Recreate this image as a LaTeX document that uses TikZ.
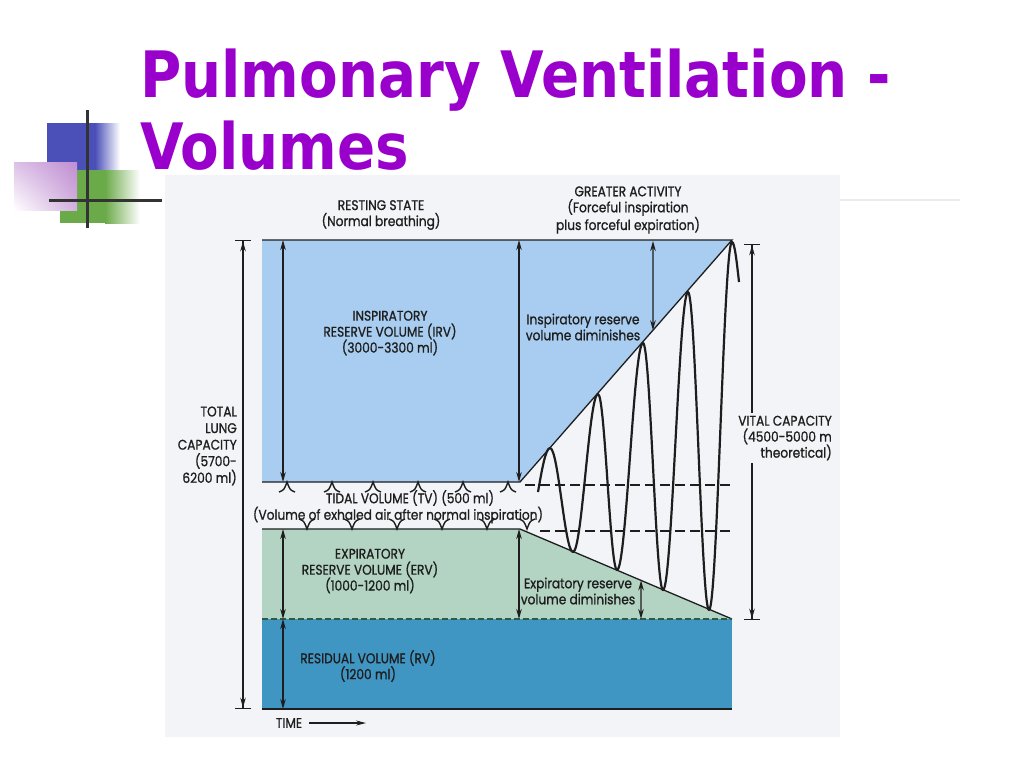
\documentclass[tikz,border=0pt]{standalone}
\usepackage{fontspec}
\setmainfont{Poppins}[FakeStretch=0.87, FakeBold=1]
\newfontfamily\titlefont{DejaVu Sans}[FakeStretch=0.88]
\usetikzlibrary{arrows.meta, calc, shadings}

\definecolor{titlepurple}{HTML}{9900CC}
\definecolor{irvblue}{HTML}{A9CDF0}
\definecolor{ervgreen}{HTML}{B3D4C3}
\definecolor{rvblue}{HTML}{4096C3}
\definecolor{scanbg}{HTML}{F2F4F7}
\definecolor{inkline}{HTML}{1E1E1E}
\definecolor{rvdash}{HTML}{2F5A45}
\definecolor{deckblue}{HTML}{4B50B9}
\definecolor{deckgreen}{HTML}{6AAA48}
\definecolor{decklilac}{HTML}{C08ED2}

\begin{document}
\begin{tikzpicture}[x=1pt, y=-1pt,
    txt/.style={font=\fontsize{14}{16}\selectfont, align=center, inner sep=0pt, text=inkline},
    vol/.style={line width=1.3pt, draw=inkline, {Stealth[length=10pt,width=5.5pt]}-{Stealth[length=10pt,width=5.5pt]}},
    tlcarrow/.style={line width=1.3pt, draw=inkline, {Bar[width=16pt]Stealth[length=10pt,width=5.5pt]}-{Stealth[length=10pt,width=5.5pt]Bar[width=16pt]}},
    rim/.style={line width=1.3pt, draw=inkline},
    tide/.style={draw=inkline, line width=1.1pt, dash pattern=on 10pt off 5pt},
    breath/.style={draw=inkline, line width=2.2pt, line join=round},
    tidemark/.style={draw=inkline, line width=1.4pt}]
  \useasboundingbox (0,0) rectangle (1024,768);

  % 左上角装饰
  \fill[deckblue] (47,123) rectangle (95,170);
  \shade[left color=deckblue, right color=white] (95,123) rectangle (120,170);
  \fill[deckgreen] (60,170) rectangle (105,223);
  \shade[left color=deckgreen, right color=white] (105,170) rectangle (140,223);
  \shade[upper right=decklilac, upper left=decklilac!55, lower left=white, lower right=decklilac!70] (14,162) rectangle (77,210);
  \draw[black!80, line width=3pt] (87,110) -- (87,228);
  \draw[black!80, line width=3pt] (49,200) -- (162,200);

  % 标题
  \node[anchor=base west, inner sep=0pt, text=titlepurple, font=\titlefont\bfseries\fontsize{64}{70}\selectfont] (title) at (140,97) {Pulmonary Ventilation -};
  \node[anchor=base west, inner sep=0pt, text=titlepurple, font=\titlefont\bfseries\fontsize{64}{70}\selectfont] (title2) at (140,169) {Volumes};

  % 扫描底色
  \fill[scanbg] (165,175) rectangle (840,737);
  \draw[black!8, line width=1.5pt] (840,200) -- (960,200);

  % 定义顶点
  \coordinate (tl) at (262,240);
  \coordinate (tr) at (732,240);
  \coordinate (ib) at (262,482);
  \coordinate (ik) at (520,482);
  \coordinate (et) at (262,529);
  \coordinate (ek) at (520,529);
  \coordinate (rt) at (262,619);
  \coordinate (rr) at (732,619);
  \coordinate (lb) at (262,709);
  \coordinate (rb) at (732,709);

  % 各容积区域
  \fill[irvblue] (tl) -- (tr) -- (ik) -- (ib) -- cycle;
  \fill[ervgreen] (et) -- (ek) -- (rr) -- (rt) -- cycle;
  \fill[rvblue] (rt) rectangle (rb);
  \draw[rim] (tl) -- (tr) -- (ik) -- (ib);
  \draw[rim] (et) -- (ek) -- (rr);
  \draw[rvdash, line width=1.5pt, dash pattern=on 6pt off 3pt] (rt) -- (rr);
  \draw[rim] (lb) -- (rb);

  % 潮气量虚线
  \draw[tide] (525,485) -- (732,485);
  \draw[tide] (540,531) -- (732,531);

  % 平静呼吸的小波峰
  \foreach \x in {287,332,373,418,463,508}
    \draw[tidemark] (\x-8,492) .. controls (\x-3,490) .. (\x,482) .. controls (\x+3,490) .. (\x+8,492);
  \foreach \x in {307,352,397,442,487,527}
    \draw[tidemark] (\x-8,519) .. controls (\x-3,521) .. (\x,529) .. controls (\x+3,521) .. (\x+8,519);

  % 用力呼吸曲线
  \draw[breath] (538,492) sin (550,448)
    \foreach \xa/\ya/\xb/\yb in {550/448/573/552, 573/552/598/394, 598/394/617/570, 617/570/643/343,
                                643/343/663/590, 663/590/688/292, 688/292/709/610, 709/610/732/242}
      { cos ({(\xa+\xb)/2},{(\ya+\yb)/2}) sin (\xb,\yb) }
    cos (739,282);

  % 文字
  \node[txt] (rest) at (381,215) {RESTING STATE\\(Normal breathing)};
  \node[txt] (active) at (628,210) {GREATER ACTIVITY\\(Forceful inspiration\\plus forceful expiration)};
  \node[txt] (irv) at (390,333) {INSPIRATORY\\RESERVE VOLUME (IRV)\\(3000-3300 ml)};
  \node[txt] (irvless) at (583,327) {Inspiratory reserve\\volume diminishes};
  \node[txt, align=right, anchor=east, font=\fontsize{14}{16.6}\selectfont] (tlc) at (237,446) {TOTAL\\LUNG\\CAPACITY\\(5700-\\6200 ml)};
  \node[txt] (tv) at (410,498) {TIDAL VOLUME (TV) (500 ml)};
  \node[txt] (tvnote) at (398,515) {(Volume of exhaled air after normal inspiration)};
  \node[txt] (erv) at (370,571) {EXPIRATORY\\RESERVE VOLUME (ERV)\\(1000-1200 ml)};
  \node[txt] (ervless) at (578,591) {Expiratory reserve\\volume diminishes};
  \node[txt] (rv) at (368,666) {RESIDUAL VOLUME (RV)\\(1200 ml)};
  \node[txt, align=right, anchor=east, inner sep=3pt] (vc) at (835,438) {VITAL CAPACITY\\(4500-5000 m\\theoretical)};
  \node[txt] (time) at (289,723) {TIME};
  \coordinate (timeend) at (366,723);
  \draw[line width=1.1pt, draw=inkline, -{Stealth[length=10pt,width=5pt]}] (time.east) ++(7,0) -- (timeend);

  % 箭头
  \draw[tlcarrow] (243,240) -- (243,709);
  \draw[vol] (283,240) -- (283,482);
  \draw[vol] (519,240) -- (519,482);
  \draw[vol] (653,241) -- ($(ik)!0.627!(tr)$);
  \draw[vol] (283,529) -- (283,619);
  \draw[vol] (519,529) -- (519,619);
  \draw[vol] ($(ek)!0.571!(rr)$) -- (641,619);
  \draw[vol] (283,619) -- (283,709);
  \coordinate (vctop) at (752,244);
  \coordinate (vcbot) at (752,620);
  \draw[line width=1.3pt, draw=inkline, -{Stealth[length=10pt,width=5.5pt]Bar[width=16pt]}] (vc.north -| vctop) -- (vctop);
  \draw[line width=1.3pt, draw=inkline, -{Stealth[length=10pt,width=5.5pt]Bar[width=16pt]}] (vc.south -| vctop) -- (vcbot);
\end{tikzpicture}
\end{document}
